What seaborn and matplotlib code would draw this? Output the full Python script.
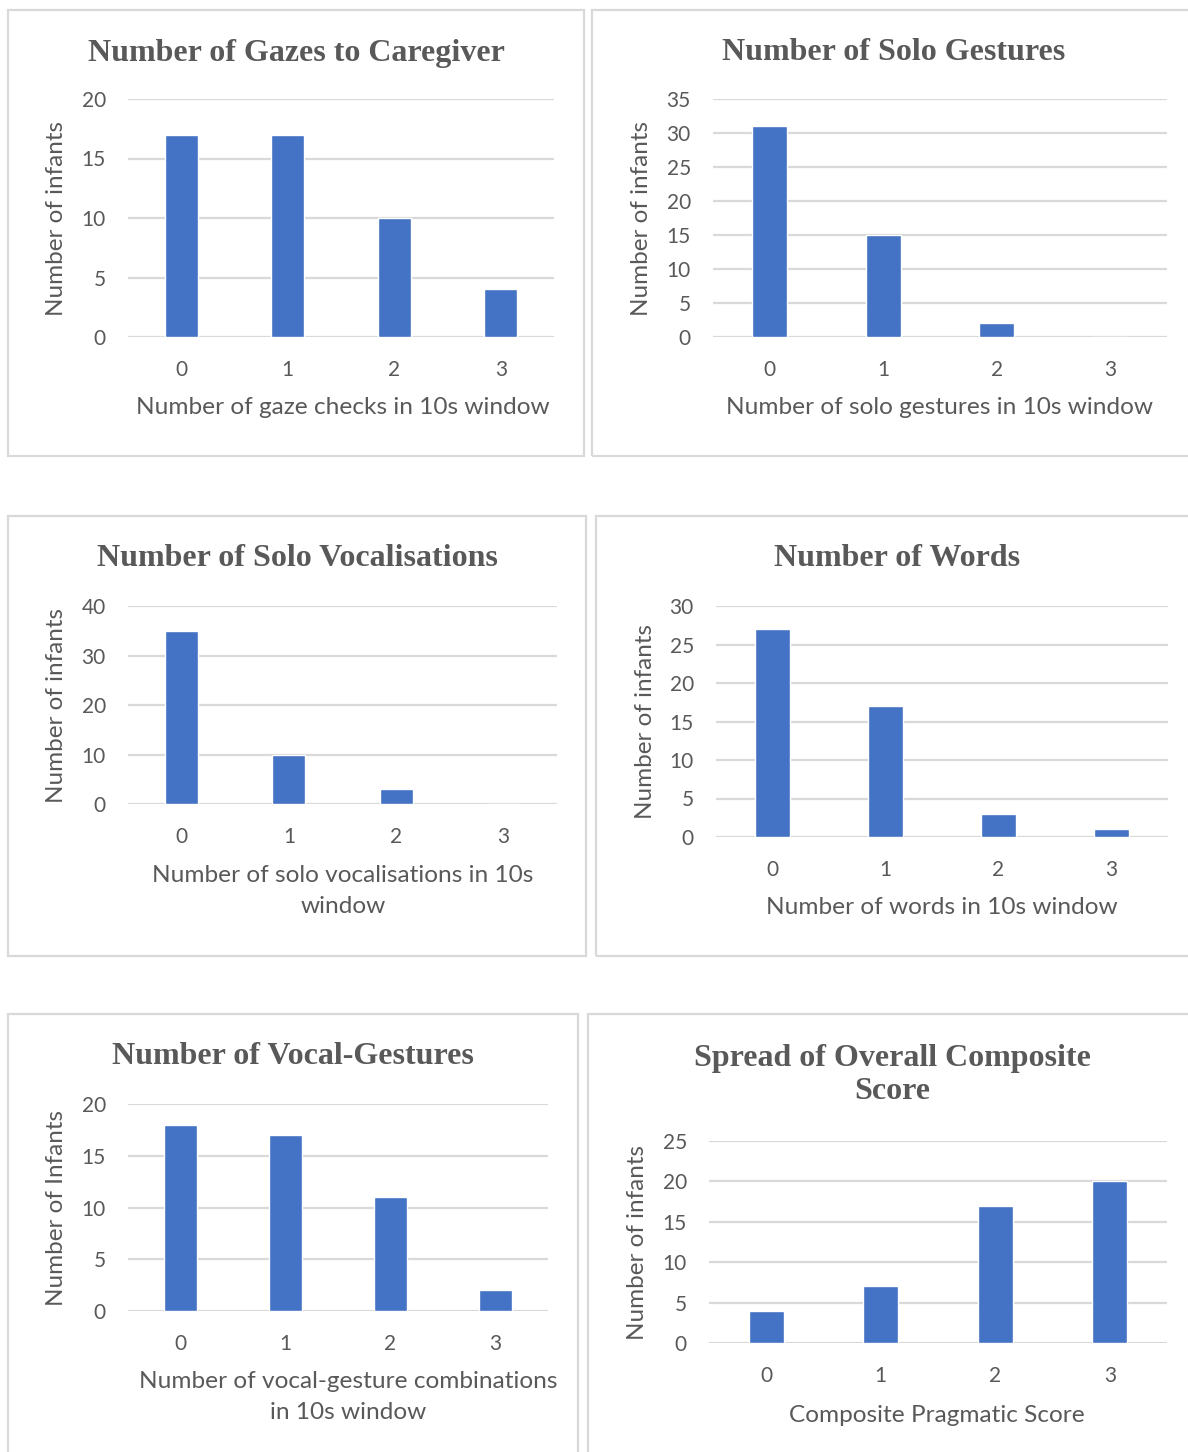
import matplotlib
matplotlib.use("Agg")
import matplotlib.pyplot as plt
import pandas as pd
import seaborn as sns
from matplotlib.patches import Rectangle

# ---- data -------------------------------------------------------------
categories = ["0", "1", "2", "3"]
gaze_counts = [17, 17, 10, 4]
solo_gesture_counts = [31, 15, 2, 0]
solo_vocal_counts = [35, 10, 3, 0]
word_counts = [27, 17, 3, 1]
vocal_gesture_counts = [18, 17, 11, 2]
composite_counts = [4, 7, 17, 20]

titles = [
    "Number of Gazes to Caregiver",
    "Number of Solo Gestures",
    "Number of Solo Vocalisations",
    "Number of Words",
    "Number of Vocal-Gestures",
    "Spread of Overall Composite\nScore",
]
xlabels = [
    "Number of gaze checks in 10s window",
    "Number of solo gestures in 10s window",
    "Number of solo vocalisations in 10s\nwindow",
    "Number of words in 10s window",
    "Number of vocal-gesture combinations\nin 10s window",
    "Composite Pragmatic Score",
]
ylabels = ["Number of infants"] * 4 + ["Number of Infants", "Number of infants"]
y_max = [20, 35, 40, 30, 20, 25]
y_step = [5, 5, 10, 5, 5, 5]
series = [gaze_counts, solo_gesture_counts, solo_vocal_counts,
          word_counts, vocal_gesture_counts, composite_counts]

# ---- layout (pixels on a 1188 x 1452 canvas) ---------------------------
W, H = 1188, 1452
frames = [(8, 10, 584, 456), (592, 10, 1210, 456),
          (8, 516, 586, 956), (596, 516, 1210, 956),
          (8, 1014, 578, 1470), (588, 1014, 1210, 1470)]
plots = [(128, 99, 554, 337), (713, 99, 1167, 337),
         (128, 606, 557, 804), (716, 606, 1168, 837),
         (128, 1104, 548, 1311), (709, 1141, 1167, 1343)]
title_pos = [(296, 53), (894, 53), (297, 558), (897, 558), (293, 1057), (892, 1075)]
xlabel_pos = [(343, 407), (940, 407), (343, 891), (942, 907), (348, 1397), (937, 1415)]
ylabel_x = [57, 641, 57, 645, 57, 638]

BAR = "#4472C4"
GRID = "#D9D9D9"
TEXT = "#595959"

sns.set_theme(style="white")
plt.rcParams["font.family"] = ["Lato", "DejaVu Sans"]

fig = plt.figure(figsize=(W / 100, H / 100), dpi=100)
fig.patch.set_facecolor("white")

for i in range(6):
    fx0, fy0, fx1, fy1 = frames[i]
    fig.add_artist(Rectangle((fx0 / W, 1 - fy1 / H), (fx1 - fx0) / W, (fy1 - fy0) / H,
                             transform=fig.transFigure, fill=False,
                             edgecolor=GRID, linewidth=1.6, zorder=0))

    left, top, right, bottom = plots[i]
    ax = fig.add_axes([left / W, 1 - bottom / H, (right - left) / W, (bottom - top) / H])
    ax.set_facecolor("none")

    df = pd.DataFrame({"score": categories, "infants": series[i]})
    sns.barplot(data=df, x="score", y="infants", color=BAR, saturation=1,
                width=0.31, ax=ax, zorder=3)

    ax.set_xlim(-0.5, 3.5)
    ax.set_ylim(0, y_max[i])
    ax.set_yticks(range(0, y_max[i] + 1, y_step[i]))
    ax.yaxis.grid(True, color=GRID, linewidth=1.6, zorder=0)
    ax.set_axisbelow(True)
    for s in ax.spines.values():
        s.set_visible(False)
    ax.tick_params(axis="both", length=0, labelsize=15, colors=TEXT)
    ax.tick_params(axis="x", pad=16.5)
    ax.tick_params(axis="y", pad=16)

    pw, ph = right - left, bottom - top
    tx, ty = title_pos[i]
    ax.set_title(titles[i], x=(tx - left) / pw, y=(bottom - ty) / ph, pad=0,
                 fontsize=23, fontweight="bold", color=TEXT,
                 family=["Liberation Serif", "DejaVu Serif"],
                 va="center", ha="center", linespacing=1.22)

    lx, ly = xlabel_pos[i]
    ax.set_xlabel(xlabels[i], fontsize=17.6, color=TEXT, linespacing=1.6)
    ax.xaxis.set_label_coords((lx - left) / pw, (bottom - ly) / ph)
    ax.xaxis.label.set_va("center")

    ax.set_ylabel(ylabels[i], fontsize=17.5, color=TEXT)
    ax.yaxis.set_label_coords((ylabel_x[i] - left) / pw, 0.5)
    ax.yaxis.label.set_va("center")

fig.savefig("out.png", dpi=100, facecolor="white")
